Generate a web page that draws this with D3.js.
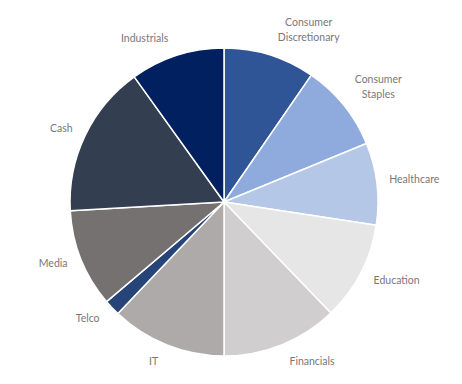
<!DOCTYPE html>
<html>
<head>
<meta charset="utf-8">
<script src="https://cdn.jsdelivr.net/npm/d3@7"></script>
<style>
  body { margin: 0; background: #fff; }
  svg text { font-family: "Liberation Sans Narrow", "Lato", sans-serif; font-size: 10.5px; fill: #787878; }
</style>
</head>
<body>
<svg id="pie" width="462" height="384"></svg>
<script>
// Sector weights (%), clockwise from 12 o'clock
var sectors = ["Consumer Discretionary", "Consumer Staples", "Healthcare", "Education",
               "Financials", "IT", "Telco", "Media", "Cash", "Industrials"];
var weights = [9.6, 9.2, 8.6, 10.4, 12.2, 12.1, 1.7, 10.3, 16.0, 9.9];
var colours = ["#2f5597", "#8faadc", "#b4c7e7", "#e7e6e6", "#d0cece",
               "#aeaaaa", "#264478", "#757171", "#333f50", "#002060"];

var cx = 224, cy = 202, radius = 154;
// small angular shifts (degrees) so labels sit where the original put them
var labelNudge = {"Consumer Discretionary": 9, "Consumer Staples": 2, "Education": -3,
                  "Financials": -7, "IT": 2, "Telco": 3, "Media": 2, "Cash": -1, "Industrials": -8};

var data = sectors.map(function(s, i) { return {name: s, value: weights[i]}; });

var colour = d3.scaleOrdinal().domain(sectors).range(colours);

var pie = d3.pie().sort(null).value(function(d) { return d.value; });
var arc = d3.arc().innerRadius(0).outerRadius(radius);

var svg = d3.select("#pie");
var g = svg.append("g").attr("transform", "translate(" + cx + "," + cy + ")");

var arcs = pie(data);

g.selectAll("path")
  .data(arcs)
  .enter()
  .append("path")
  .attr("d", arc)
  .attr("fill", function(d) { return colour(d.data.name); })
  .attr("stroke", "#fff")
  .attr("stroke-width", 1.5)
  .attr("stroke-linejoin", "round");

// labels: box placed just outside the rim along the (nudged) mid angle
var labelGap = 166;
var labels = g.selectAll("text")
  .data(arcs)
  .enter()
  .append("text")
  .attr("text-anchor", "middle");

labels.each(function(d) {
  var t = d3.select(this);
  var words = d.data.name.split(" ");
  words.forEach(function(w, i) {
    t.append("tspan").attr("x", 0).attr("dy", i == 0 ? 0 : 15).text(w);
  });
});

labels.each(function(d) {
  var t = d3.select(this);
  var box = this.getBBox();
  var a = (d.startAngle + d.endAngle) / 2 + (labelNudge[d.data.name] || 0) * Math.PI / 180;
  var s = Math.sin(a), c = -Math.cos(a);
  var dist = labelGap + box.width / 2 * Math.abs(s) + box.height / 2 * Math.abs(c);
  var mx = dist * s, my = dist * c;
  // shift so the box centre lands on (mx, my)
  var bx = box.x + box.width / 2, by = box.y + box.height / 2;
  t.attr("transform", "translate(" + (mx - bx) + "," + (my - by) + ")");
});
</script>
</body>
</html>
